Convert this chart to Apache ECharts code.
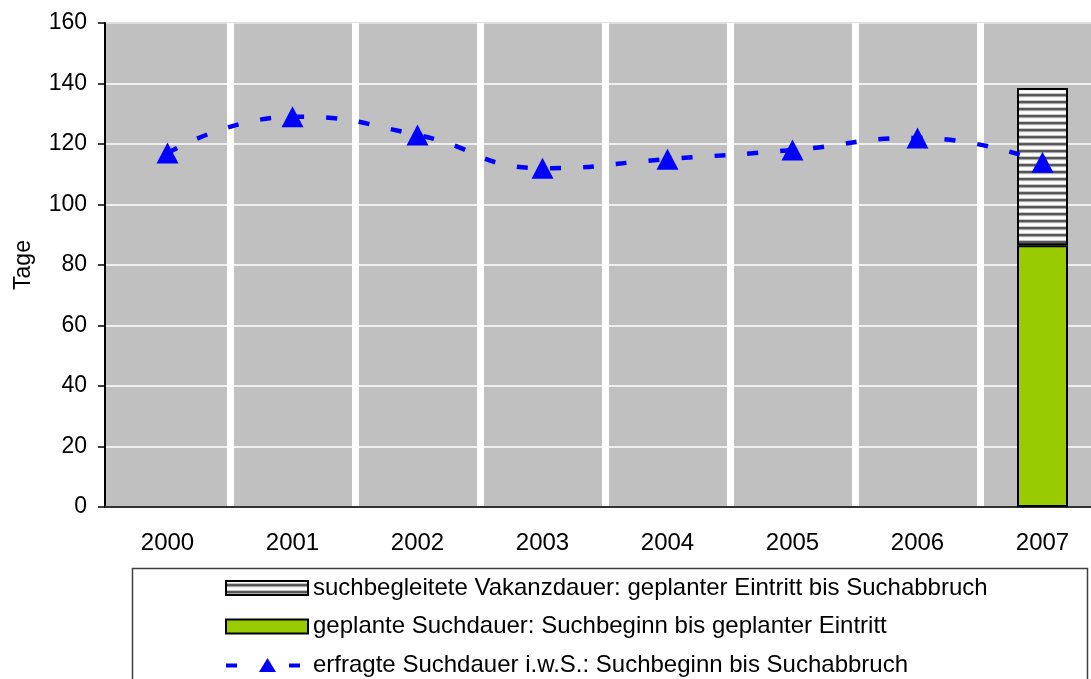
<!DOCTYPE html>
<html>
<head>
<meta charset="utf-8">
<script src="https://cdn.jsdelivr.net/npm/echarts@6/dist/echarts.min.js"></script>
<style>
  html, body { margin: 0; padding: 0; background: #fff; }
  #chart { width: 1091px; height: 679px; }
</style>
</head>
<body>
<div id="chart"></div>
<script>
  // Daten
  var years = ['2000', '2001', '2002', '2003', '2004', '2005', '2006', '2007'];
  var suchdauerIwS = [117, 129, 123, 112, 115, 118, 122, 114];      // Linie
  var geplanteSuchdauer = [null, null, null, null, null, null, null, 86.5];   // grün
  var vakanzdauer = [null, null, null, null, null, null, null, 52];           // gestreift
  var yTicks = { min: 0, max: 160, interval: 20 };

  var names = [
    'suchbegleitete Vakanzdauer: geplanter Eintritt bis Suchabbruch',
    'geplante Suchdauer: Suchbeginn bis geplanter Eintritt',
    'erfragte Suchdauer i.w.S.: Suchbeginn bis Suchabbruch'
  ];

  // Streifenmuster fuer die Vakanzdauer
  var pat = document.createElement('canvas');
  pat.width = 4; pat.height = 7;
  var ctx = pat.getContext('2d');
  var rows = ['#ffffff', '#ffffff', '#c8c8c8', '#5a5a5a', '#555555', '#a8a8a8', '#f0f0f0'];
  rows.forEach(function (c, i) { ctx.fillStyle = c; ctx.fillRect(0, i, 4, 1); });

  // Legendensymbol der Linie: Strich - Dreieck - Strich
  var lineIcon = 'path://M0,5.5H11V9.5H0Z M33,14L41.5,0L50,14Z M63,5.5H74V9.5H63Z M81.9,7L82,7L81.95,7.05Z';

  var font = '"Liberation Sans", Arial, sans-serif';
  var chart = echarts.init(document.getElementById('chart'));

  var option = {
    animation: false,
    textStyle: { fontFamily: font, color: '#000' },
    grid: {
      left: 105, top: 23, width: 1000, bottom: 172,
      outerBoundsMode: 'none',
      show: true,
      backgroundColor: '#c0c0c0',
      borderColor: '#808080',
      borderWidth: 2
    },
    xAxis: {
      type: 'category',
      data: years,
      axisLine: { lineStyle: { color: '#333', width: 2 } },
      axisTick: { show: false },
      axisLabel: { fontSize: 24, color: '#000', margin: 24, fontFamily: font },
      splitLine: {
        show: true,
        interval: function (i) { return i > 0; },
        lineStyle: { color: '#fff', width: 7 }
      }
    },
    yAxis: {
      type: 'value',
      min: yTicks.min, max: yTicks.max, interval: yTicks.interval,
      name: 'Tage',
      nameLocation: 'middle',
      nameGap: 70,
      nameTextStyle: { fontSize: 23, color: '#000', fontFamily: font },
      axisLine: { show: true, lineStyle: { color: '#000', width: 2 } },
      axisTick: { show: true, length: 7, lineStyle: { color: '#000', width: 1.5 } },
      axisLabel: { fontSize: 23, color: '#000', margin: 18, fontFamily: font },
      splitLine: { lineStyle: { color: '#fff', width: 1.5 } }
    },
    legend: {
      orient: 'vertical',
      left: 220, top: 571,
      height: 200,
      itemWidth: 82, itemHeight: 14,
      itemGap: 14.5,
      symbolKeepAspect: false,
      textStyle: { fontSize: 24, color: '#000', fontFamily: font, lineHeight: 24 },
      data: [
        { name: names[0], icon: 'rect' },
        { name: names[1], icon: 'rect' },
        { name: names[2], icon: lineIcon, itemStyle: { color: '#0000ff', borderWidth: 0 } }
      ]
    },
    graphic: [{
      type: 'rect',
      left: 130, top: 566,
      shape: { width: 955, height: 140 },
      style: { fill: 'none', stroke: '#404040', lineWidth: 1.5 },
      z: -1
    }],
    series: [
      {
        name: names[1],
        type: 'bar',
        stack: 'dauer',
        barWidth: 51,
        data: geplanteSuchdauer,
        itemStyle: { color: '#99cc00', borderColor: '#000', borderWidth: 2 }
      },
      {
        name: names[0],
        type: 'bar',
        stack: 'dauer',
        barWidth: 51,
        data: vakanzdauer,
        itemStyle: {
          color: { image: pat, repeat: 'repeat' },
          borderColor: '#000', borderWidth: 2
        }
      },
      {
        name: names[2],
        type: 'line',
        data: suchdauerIwS,
        smooth: 0.5,
        symbol: 'triangle',
        symbolSize: [22, 21],
        itemStyle: { color: '#0000ff' },
        lineStyle: { color: '#0000ff', width: 4.5, type: [11, 22] },
        z: 5
      }
    ]
  };

  chart.setOption(option);
  window.addEventListener('resize', function () {
    chart.resize();
  });
</script>
</body>
</html>
